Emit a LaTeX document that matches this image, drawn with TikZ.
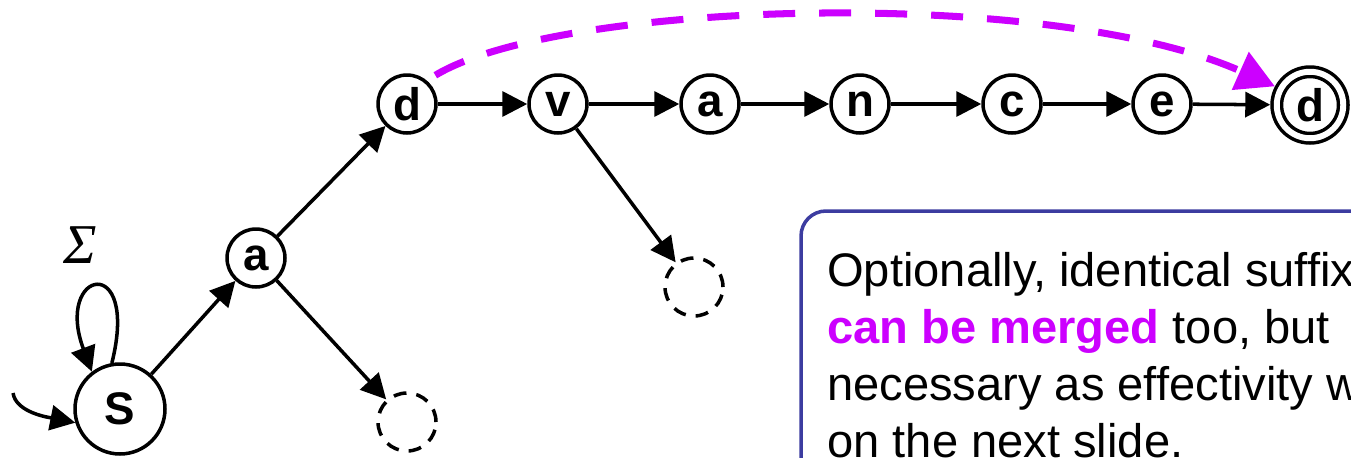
\documentclass[tikz,border=0pt]{standalone}
\usepackage[no-math]{fontspec}
\setmainfont{Liberation Sans}
\newfontfamily\sigmafont{Liberation Serif}
\usepackage{tikz}
\usetikzlibrary{arrows.meta}
\tikzset{>={Triangle[length=.5cm,width=.5cm]}}
\definecolor{merged}{RGB}{204,0,255}
\definecolor{boxblue}{RGB}{60,60,160}

\begin{document}
\begin{tikzpicture}[x=0.02cm,y=-0.02cm]
      \tikzstyle{state}=[circle,draw,line width=2pt,minimum size=1.16cm,inner sep=0pt,font=\fontsize{26}{30}\selectfont\bfseries];
      \tikzstyle{sstate}=[state,minimum size=1.8cm];
      \tikzstyle{finstate}=[state,double,double distance=3.4pt,minimum size=1.33cm,outer sep=3.7pt];
      \tikzstyle{deadstate}=[state,dash pattern=on 7.4pt off 5.7pt];
      \tikzstyle{trans}=[line width=2pt,->];
      \tikzstyle{merge}=[line width=4pt,draw=merged,dash pattern=on .64cm off .48cm,-{Triangle[length=.76cm,width=.8cm]}];
      \useasboundingbox (0,0) rectangle (1351,457);

      \node[sstate] (s) at (120,409) {S};
      \node[state] (a1) at (256,258) {a};
      \node[deadstate] (x1) at (407,422) {};
      \node[state] (d1) at (407,104) {d};
      \node[state] (v) at (558,104) {v};
      \node[deadstate] (x2) at (694,287) {};
      \node[state] (a2) at (710,104) {a};
      \node[state] (n) at (860,104) {n};
      \node[state] (c) at (1012,104) {c};
      \node[state] (e) at (1162,104) {e};
      \node[finstate] (d2) at (1310,105) {d};
      \node (sigma) at (80,245) {\fontsize{32}{38}\selectfont\sigmafont\itshape Σ};
      \coordinate (init) at (13,393);

      \draw[trans] (init) .. controls +(3,20) and +(-25,-5) .. (s.197);
      \draw[trans] (s.100) .. controls +(28,-112) and +(-38,-102) .. (s.127);
      \draw[trans] (s) -- (a1);
      \draw[trans] (a1) -- (d1);
      \draw[trans] (a1) -- (x1);
      \draw[trans] (d1) -- (v);
      \draw[trans] (v) -- (a2);
      \draw[trans] (v) -- (x2);
      \draw[trans] (a2) -- (n);
      \draw[trans] (n) -- (c);
      \draw[trans] (c) -- (e);
      \draw[trans] (e) -- (d2);
      \draw[merge,shorten <=.2cm] (d1.50) .. controls (560,0) and (1050,-14) .. (d2.152);

      % note box, cut off by the page
      \draw[line width=2pt,draw=boxblue,rounded corners=.5cm] (801,211) rectangle (1500,600);
      \node[anchor=base west,align=left,inner sep=0pt,font=\fontsize{26.8}{32.4}\selectfont] (note) at (827,457)
        {Optionally, identical suffix\\
         \textcolor{merged}{\textbf{can be merged}} too, but\\
         necessary as effectivity w\\
         on the next slide.};
\end{tikzpicture}
\end{document}
